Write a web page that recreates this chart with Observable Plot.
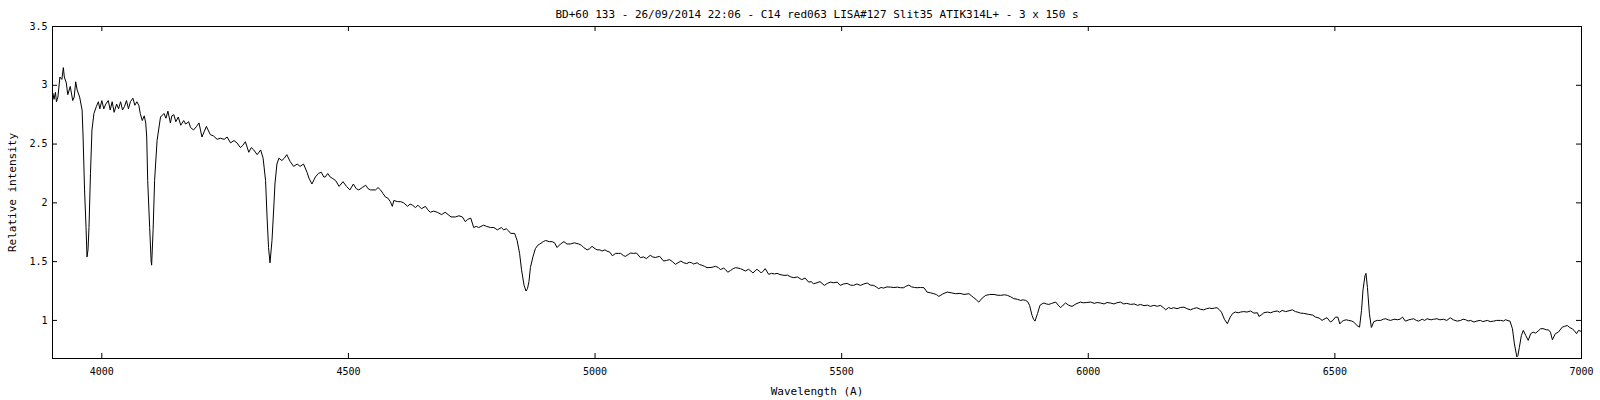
<!DOCTYPE html>
<html><head><meta charset="utf-8">
<script src="https://cdn.jsdelivr.net/npm/d3@7"></script>
<script src="https://cdn.jsdelivr.net/npm/@observablehq/plot@0.6"></script>
<style>body{margin:0;background:#fff} svg{display:block}</style>
</head><body><div id="chart"></div>
<script>
const title = "BD+60 133 - 26/09/2014 22:06 - C14 red063 LISA#127 Slit35 ATIK314L+ - 3 x 150 s";
const xLabel = "Wavelength (A)";
const yLabel = "Relative intensity";
const xTicks = [4000, 4500, 5000, 5500, 6000, 6500, 7000];
const yTicks = [1, 1.5, 2, 2.5, 3, 3.5];

const wavelength = [
3901,3903,3906,3908,3911,3915,3919,3922,3924,3928,3931,3936,3941,3944,3947,3950,3955,3960,3962,3965,3968,3970,3972,3974,3977,3980,3984,3989,3993,3996,
4000,4004,4008,4013,4017,4021,4025,4030,4034,4038,4042,4046,4050,4054,4058,4063,4067,4071,4075,4078,4082,4086,4089,4091,4093,4097,4100,4101,4104,4107,
4112,4119,4126,4130,4134,4139,4142,4146,4150,4155,4160,4166,4170,4176,4180,4186,4192,4197,4203,4208,4212,4220,4226,4234,4240,4248,4254,4261,4268,4274,
4281,4286,4291,4298,4303,4308,4315,4322,4327,4332,4335,4338,4341,4345,4349,4351,4355,4359,4365,4370,4375,4382,4389,4396,4402,4409,4416,4420,4426,4433,
4439,4445,4450,4453,4458,4463,4467,4474,4481,4489,4496,4503,4510,4516,4521,4528,4535,4540,4545,4555,4560,4565,4570,4575,4580,4585,4589,4592,4600,4606,
4612,4620,4625,4630,4636,4641,4648,4656,4661,4666,4673,4680,4689,4696,4702,4708,4717,4724,4731,4737,4742,4748,4754,4759,4764,4774,4780,4788,4795,4802,
4810,4815,4820,4825,4829,4837,4842,4847,4851,4856,4860,4863,4866,4869,4874,4879,4884,4888,4895,4900,4907,4913,4918,4923,4930,4937,4943,4950,4958,4967,
4972,4977,4984,4989,4994,5000,5004,5010,5014,5020,5024,5030,5035,5042,5048,5052,5058,5062,5067,5072,5078,5084,5092,5098,5104,5112,5117,5122,5131,5139,
5145,5151,5157,5163,5168,5174,5180,5186,5191,5196,5200,5207,5212,5217,5222,5227,5235,5240,5244,5250,5254,5261,5265,5269,5275,5280,5285,5290,5295,5300,
5305,5311,5316,5320,5328,5333,5337,5341,5345,5352,5358,5364,5369,5375,5383,5390,5397,5403,5410,5419,5426,5433,5438,5443,5450,5456,5465,5471,5477,5484,
5491,5497,5504,5511,5518,5524,5531,5538,5545,5552,5558,5565,5570,5575,5580,5585,5592,5599,5606,5613,5619,5626,5630,5636,5642,5648,5653,5660,5667,5673,
5680,5687,5692,5697,5705,5714,5722,5731,5740,5748,5758,5763,5768,5773,5778,5785,5792,5800,5809,5815,5822,5830,5836,5843,5849,5856,5863,5868,5873,5877,
5881,5886,5889,5892,5897,5902,5906,5910,5915,5920,5926,5934,5939,5944,5949,5954,5960,5967,5975,5984,5990,5997,6005,6012,6018,6025,6032,6038,6045,6052,
6058,6065,6072,6078,6086,6093,6100,6106,6113,6120,6126,6133,6140,6146,6152,6157,6163,6168,6173,6180,6187,6194,6200,6207,6213,6220,6227,6234,6240,6246,
6251,6256,6261,6266,6270,6276,6282,6288,6293,6298,6304,6309,6315,6322,6329,6336,6343,6346,6352,6356,6363,6370,6376,6383,6388,6393,6400,6407,6414,6420,
6425,6430,6437,6447,6455,6461,6468,6474,6480,6484,6491,6496,6501,6506,6510,6514,6518,6523,6528,6534,6538,6545,6550,6554,6557,6561,6563,6566,6570,6574,
6579,6586,6593,6598,6603,6608,6613,6620,6627,6632,6637,6643,6650,6655,6660,6665,6670,6677,6682,6687,6695,6700,6707,6713,6720,6727,6734,6740,6748,6755,
6760,6765,6770,6775,6782,6788,6795,6800,6809,6815,6822,6828,6836,6842,6846,6851,6855,6860,6864,6869,6871,6874,6878,6882,6887,6892,6897,6902,6907,6912,
6917,6922,6929,6933,6937,6941,6947,6953,6961,6966,6971,6976,6981,6985,6990,6994,6997,7000
];
const intensity = [
2.93,2.88,2.94,2.86,2.90,3.07,3.05,3.15,3.07,3.02,2.92,2.99,2.87,2.90,3.03,2.96,2.90,2.79,2.56,2.11,1.79,1.54,1.60,1.79,2.25,2.62,2.76,2.82,2.86,2.80,
2.87,2.80,2.84,2.87,2.79,2.86,2.77,2.84,2.80,2.86,2.79,2.82,2.87,2.80,2.86,2.89,2.83,2.86,2.83,2.76,2.70,2.74,2.68,2.56,2.19,1.79,1.50,1.47,1.77,2.19,
2.53,2.73,2.76,2.72,2.78,2.68,2.74,2.75,2.69,2.73,2.66,2.70,2.67,2.69,2.64,2.62,2.65,2.68,2.56,2.61,2.65,2.58,2.57,2.54,2.55,2.54,2.56,2.51,2.53,2.51,
2.47,2.49,2.52,2.43,2.47,2.45,2.41,2.45,2.38,2.19,1.88,1.62,1.49,1.68,1.99,2.16,2.33,2.38,2.36,2.38,2.41,2.35,2.31,2.33,2.31,2.33,2.26,2.21,2.16,2.22,
2.25,2.26,2.22,2.22,2.25,2.22,2.21,2.19,2.14,2.18,2.14,2.11,2.16,2.12,2.11,2.13,2.15,2.12,2.11,2.11,2.13,2.11,2.08,2.05,2.04,2.01,1.97,2.02,2.01,2.01,
2.00,1.97,1.99,1.98,1.96,1.98,1.95,1.97,1.94,1.92,1.93,1.92,1.90,1.92,1.90,1.88,1.88,1.89,1.88,1.84,1.86,1.87,1.79,1.80,1.79,1.81,1.80,1.79,1.79,1.77,
1.79,1.77,1.78,1.76,1.74,1.74,1.68,1.57,1.43,1.30,1.25,1.27,1.33,1.45,1.54,1.61,1.64,1.65,1.67,1.68,1.67,1.67,1.66,1.62,1.65,1.67,1.65,1.65,1.66,1.65,
1.64,1.62,1.60,1.61,1.63,1.61,1.60,1.60,1.59,1.60,1.59,1.58,1.55,1.57,1.57,1.57,1.55,1.545,1.56,1.573,1.57,1.573,1.534,1.54,1.526,1.554,1.54,1.535,1.545,1.505,
1.51,1.517,1.50,1.477,1.49,1.505,1.49,1.483,1.495,1.49,1.48,1.49,1.475,1.469,1.46,1.449,1.45,1.455,1.46,1.45,1.432,1.445,1.43,1.41,1.425,1.44,1.449,1.445,1.44,1.43,
1.42,1.435,1.42,1.403,1.435,1.42,1.403,1.42,1.44,1.392,1.40,1.395,1.40,1.39,1.383,1.385,1.37,1.363,1.37,1.347,1.36,1.326,1.33,1.312,1.32,1.33,1.298,1.315,1.326,1.32,
1.326,1.298,1.31,1.315,1.30,1.298,1.31,1.298,1.31,1.318,1.30,1.298,1.285,1.27,1.28,1.275,1.285,1.283,1.28,1.283,1.278,1.278,1.29,1.30,1.285,1.28,1.278,1.28,1.278,1.241,
1.235,1.227,1.22,1.204,1.225,1.241,1.235,1.227,1.23,1.221,1.227,1.21,1.193,1.175,1.156,1.19,1.213,1.22,1.221,1.215,1.213,1.218,1.213,1.20,1.185,1.18,1.17,1.175,1.17,1.16,
1.128,1.043,1.01,0.994,1.057,1.128,1.14,1.148,1.14,1.136,1.145,1.156,1.13,1.108,1.13,1.148,1.13,1.119,1.14,1.156,1.15,1.152,1.156,1.145,1.152,1.148,1.14,1.152,1.148,1.14,
1.15,1.156,1.14,1.145,1.136,1.14,1.128,1.136,1.125,1.13,1.119,1.128,1.12,1.128,1.11,1.09,1.11,1.10,1.108,1.10,1.11,1.113,1.10,1.09,1.10,1.108,1.095,1.09,1.10,1.105,
1.10,1.105,1.108,1.09,1.07,1.01,0.972,1.03,1.06,1.071,1.065,1.071,1.075,1.071,1.08,1.062,1.065,1.034,1.05,1.065,1.071,1.065,1.075,1.08,1.07,1.085,1.075,1.082,1.09,1.075,
1.07,1.062,1.06,1.051,1.045,1.028,1.02,1.00,1.015,1.023,0.986,1.00,1.028,1.028,0.97,0.99,1.0,1.005,1.0,0.995,0.986,0.957,0.943,1.085,1.26,1.38,1.40,1.28,1.057,0.94,
0.99,1.0,1.0,1.01,1.014,1.005,1.0,1.01,1.006,1.01,1.028,0.994,1.005,1.01,1.014,1.0,0.994,1.01,1.0,1.014,1.005,1.01,1.014,1.005,1.01,1.0,1.023,1.005,0.994,1.0,
1.01,1.006,0.995,1.0,0.986,0.995,1.0,0.99,1.0,0.99,0.994,1.0,1.0,0.995,1.006,0.998,0.994,0.929,0.80,0.69,0.70,0.77,0.87,0.915,0.872,0.83,0.887,0.90,0.892,0.91,
0.929,0.93,0.92,0.92,0.90,0.835,0.887,0.90,0.943,0.95,0.957,0.94,0.929,0.915,0.887,0.915,0.91,0.906
];

const data = wavelength.map((w, i) => ({w, v: intensity[i]}));

const W = 1600, H = 400, mL = 52, mR = 19, mT = 26, mB = 42;
const frameW = W - mL - mR, frameH = H - mT - mB, tick = 5;
const fmt = d => String(d);

const chart = Plot.plot({
  width: W, height: H,
  marginLeft: mL, marginRight: mR, marginTop: mT, marginBottom: mB,
  style: {fontFamily: "'DejaVu Sans Mono', monospace", fontSize: "10px", color: "black", background: "white"},
  x: {domain: [3900, 7000]},
  y: {domain: [0.676, 3.5]},
  marks: [
    Plot.frame({stroke: "black"}),
    Plot.axisX(xTicks, {anchor: "bottom", tickSize: 0, tickPadding: 9, tickFormat: fmt, label: null}),
    Plot.axisY(yTicks, {anchor: "left", tickSize: 0, tickPadding: 5, tickFormat: fmt, label: null}),
    Plot.tickX(xTicks, {x: d => d, insetTop: frameH - tick, stroke: "black"}),
    Plot.tickX(xTicks, {x: d => d, insetBottom: frameH - tick, stroke: "black"}),
    Plot.tickY(yTicks, {y: d => d, insetRight: frameW - tick, stroke: "black"}),
    Plot.tickY(yTicks, {y: d => d, insetLeft: frameW - tick, stroke: "black"}),
    Plot.line(data, {x: "w", y: "v", stroke: "black", strokeWidth: 1}),
    Plot.text([title], {frameAnchor: "top", dy: -12, textAnchor: "middle", lineAnchor: "middle", fontSize: 11}),
    Plot.text([xLabel], {frameAnchor: "bottom", dy: 33, textAnchor: "middle", lineAnchor: "middle", fontSize: 11}),
    Plot.text([yLabel], {frameAnchor: "left", dx: -40, rotate: -90, textAnchor: "middle", lineAnchor: "middle", fontSize: 11})
  ]
});
document.getElementById("chart").appendChild(chart);
</script>
</body></html>
